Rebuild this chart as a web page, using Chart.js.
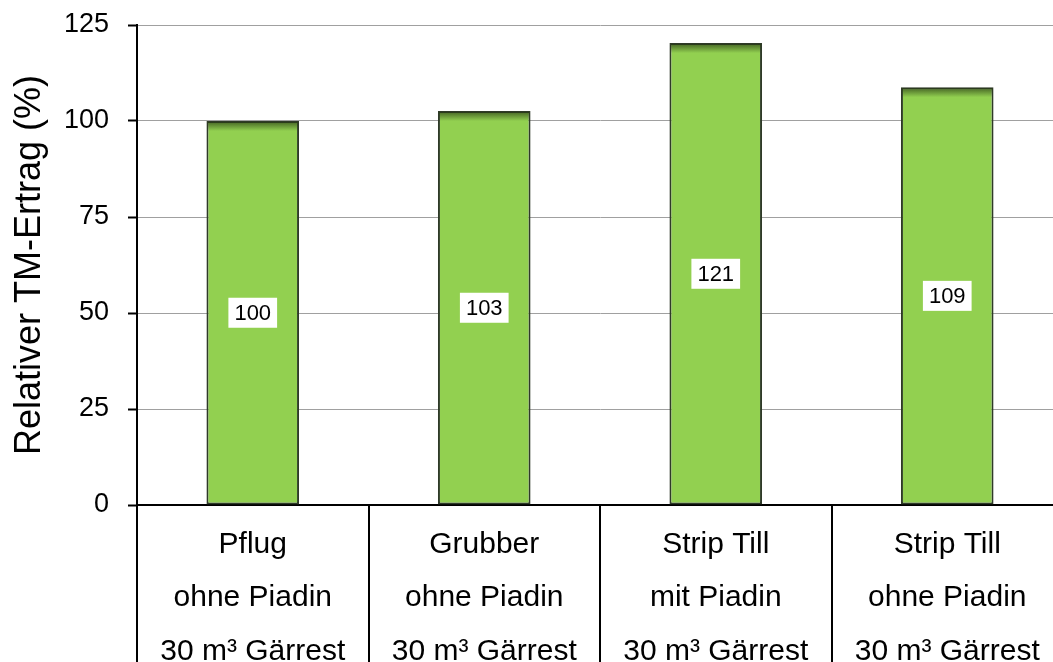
<!DOCTYPE html>
<html>
<head>
<meta charset="utf-8">
<script src="https://cdn.jsdelivr.net/npm/chart.js@4"></script>
<style>
  html, body { margin: 0; padding: 0; background: #fff; overflow: hidden; }
  #wrap { width: 1070px; height: 662px; }
</style>
</head>
<body>
<div id="wrap"><canvas id="grafik" width="1070" height="662"></canvas></div>
<script>
// Varianten (Bodenbearbeitung)
const varianten = [
    ['Pflug', 'ohne Piadin', '30 m³ Gärrest'],
    ['Grubber', 'ohne Piadin', '30 m³ Gärrest'],
    ['Strip Till', 'mit Piadin', '30 m³ Gärrest'],
    ['Strip Till', 'ohne Piadin', '30 m³ Gärrest'],
];

// relativer Ertrag (Balkenhöhe) und angezeigter Wert
const ertrag = [100, 102.6, 120.3, 108.8];
const ertragText = ['100', '103', '121', '109'];

// Achse
const yMin = 0;
const yMax = 125;
const yStep = 25;

const schrift = 'Arial, "Liberation Sans", sans-serif';

// dunkler Verlauf an der Balkenoberkante + Werte in weißen Kästchen
const balkenPlugin = {
    id: 'balkenPlugin',
    afterDatasetsDraw(chart) {
        const ctx = chart.ctx;
        const meta = chart.getDatasetMeta(0);
        meta.data.forEach((bar, i) => {
            const links = bar.x - bar.width / 2 + 1;
            const oben = bar.y + 1;
            const grad = ctx.createLinearGradient(0, oben, 0, oben + 9);
            grad.addColorStop(0, 'rgba(40,60,20,0.7)');
            grad.addColorStop(1, 'rgba(40,60,20,0)');
            ctx.save();
            ctx.fillStyle = grad;
            ctx.fillRect(links, oben, bar.width - 2, 9);
            ctx.restore();

            // Beschriftung
            const mitte = (bar.y + bar.base) / 2;
            ctx.save();
            ctx.font = '22px ' + schrift;
            const b = ctx.measureText(ertragText[i]).width + 12;
            const h = 30;
            ctx.fillStyle = '#fff';
            ctx.fillRect(bar.x - b / 2, mitte - h / 2, b, h);
            ctx.fillStyle = '#000';
            ctx.textAlign = 'center';
            ctx.textBaseline = 'middle';
            ctx.fillText(ertragText[i], bar.x, mitte + 1);
            ctx.restore();
        });
    }
};

new Chart(document.getElementById('grafik'), {
    type: 'bar',
    data: {
        labels: varianten,
        datasets: [{
            data: ertrag,
            backgroundColor: '#92d050',
            borderColor: '#2f3a28',
            borderWidth: 2,
            borderSkipped: false,
            categoryPercentage: 1,
            barPercentage: 0.4,
        }]
    },
    options: {
        responsive: false,
        animation: false,
        layout: { padding: { top: 25, right: 7, left: 0, bottom: 0 } },
        plugins: {
            legend: { display: false },
            tooltip: { enabled: false },
        },
        scales: {
            x: {
                afterFit(scale) { scale.height = 157; },
                border: { color: '#000', width: 2 },
                grid: {
                    drawOnChartArea: false,
                    tickLength: 157,
                    tickColor: '#000',
                    lineWidth: 2,
                },
                ticks: {
                    autoSkip: false,
                    maxRotation: 0,
                    padding: -144,
                    color: '#000',
                    font: { family: schrift, size: 30, lineHeight: 1.78 },
                }
            },
            y: {
                min: yMin,
                max: yMax,
                afterFit(scale) {
                    scale.width = 137;
                    scale.paddingTop = 0;
                },
                border: { color: '#000', width: 2 },
                grid: {
                    color: '#a0a0a0',
                    lineWidth: 1,
                    borderDash: [2, 2],
                    tickColor: '#000',
                    tickBorderDash: [],
                    tickWidth: 2,
                    tickLength: 9,
                },
                ticks: {
                    stepSize: yStep,
                    padding: 19,
                    color: '#000',
                    font: { family: schrift, size: 27 },
                },
                title: {
                    display: true,
                    text: 'Relativer TM-Ertrag (%)',
                    color: '#000',
                    font: { family: schrift, size: 36 },
                    padding: { top: 8, bottom: 0 },
                }
            }
        }
    },
    plugins: [balkenPlugin]
});
</script>
</body>
</html>
